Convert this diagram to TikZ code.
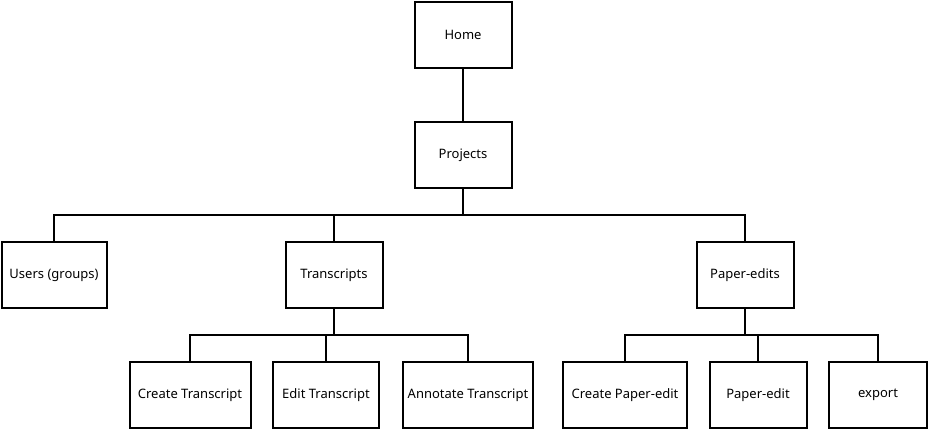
\documentclass[tikz,border=0pt]{standalone}
\usepackage{fontspec}
\setmainfont{Noto Sans}
\usepackage{tikz}
\usetikzlibrary{positioning}
\tikzstyle{page}=[rectangle,draw,line width=2pt,fill=white,minimum height=66,inner sep=0pt,font=\fontsize{13}{15}\selectfont]
\tikzstyle{link} = [draw,line width=1.6pt]

\begin{document}
\begin{tikzpicture}[x=1pt,y=-1pt]
  \useasboundingbox (0,0) rectangle (929,430);

  \def\dx{0};
  \def\dy{0};
  \def\bus{26};

   \foreach \x/\y/\name/\w/\label in {463/35/home/97/Home, 463/155/projects/97/Projects}
          \node[page,minimum width=\w] (\name) at (\x+\dx, \y+\dy) {\label};

   \foreach \x/\y/\name/\w/\label in {54/275/users/105/{Users (groups)}, 334/275/transcripts/97/Transcripts, 745/275/paperedits/97/Paper-edits}
          \node[page,minimum width=\w] (\name) at (\x+\dx, \y+\dy) {\label};

   \foreach \x/\y/\name/\w/\label in {190/395/createtr/121/{Create Transcript}, 326/395/edittr/106/{Edit Transcript}, 468/395/annotatetr/130/{Annotate Transcript}}
          \node[page,minimum width=\w] (\name) at (\x+\dx, \y+\dy) {\label};

   \foreach \x/\y/\name/\w/\label in {625/395/createpe/124/{Create Paper-edit}, 758/395/paperedit/97/Paper-edit, 878/395/export/98/export}
          \node[page,minimum width=\w] (\name) at (\x+\dx, \y+\dy) {\label};

  \path[link] (home) -- (projects);

  \foreach \source/\dest in {projects/users, projects/transcripts, projects/paperedits}
         \path[link] (\source.south) -- ++(0,\bus) -| (\dest.north);

  \foreach \source/\dest in {transcripts/createtr, transcripts/edittr, transcripts/annotatetr, paperedits/createpe, paperedits/paperedit, paperedits/export}
         \path[link] (\source.south) -- ++(0,\bus) -| (\dest.north);

\end{tikzpicture}
\end{document}
